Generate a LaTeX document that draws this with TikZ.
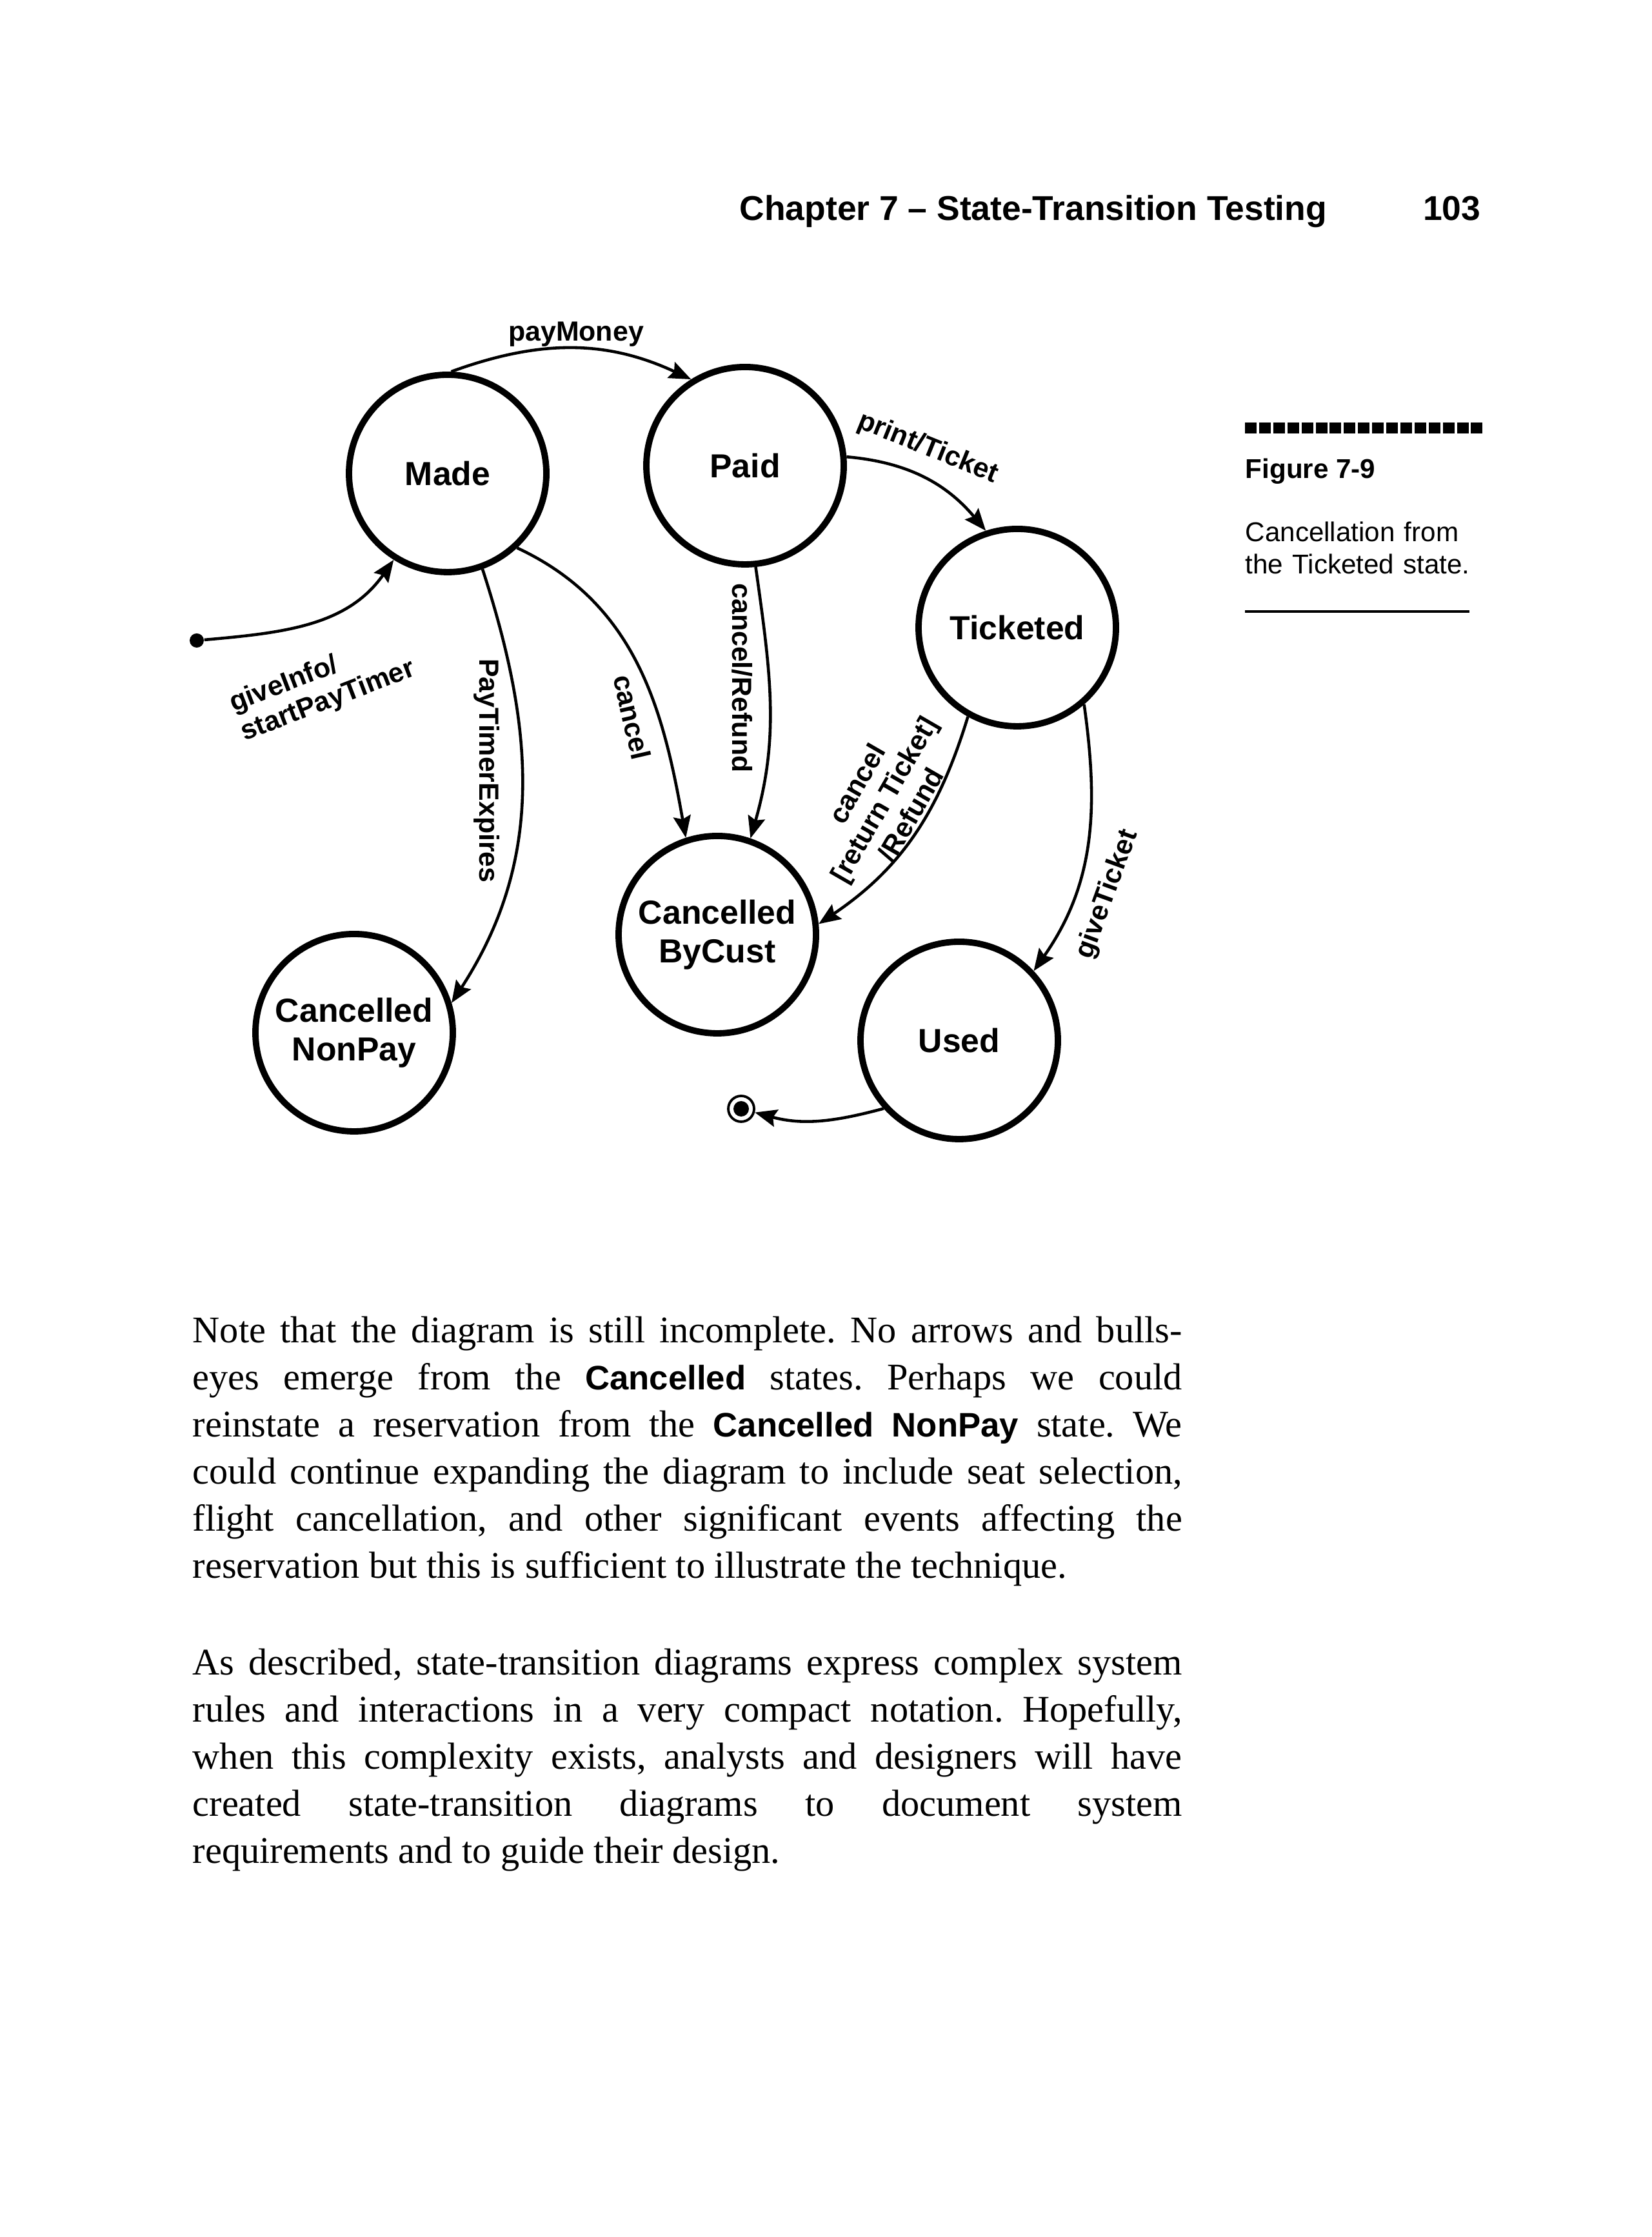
\documentclass[tikz,border=0pt]{standalone}
\usepackage{fontspec}
\setmainfont{Liberation Serif}
\setsansfont{Liberation Sans}
\usetikzlibrary{arrows.meta}

\newcommand{\statefont}{\sffamily\bfseries\fontsize{14.7}{17}\selectfont}
\newcommand{\edgefont}{\sffamily\bfseries\fontsize{12.2}{13.7}\selectfont}
\newcommand{\bodyfont}{\rmfamily\fontsize{16.6}{20.77}\selectfont\frenchspacing\hyphenpenalty=10000\exhyphenpenalty=10000\relax}
\newcommand{\sidefont}{\sffamily\fontsize{12}{14.2}\selectfont}
\newcommand{\headfont}{\sffamily\bfseries\fontsize{15.2}{17}\selectfont}
\newcommand{\bsf}[1]{{\sffamily\bfseries\fontsize{15}{20.77}\selectfont #1}}

\begin{document}
\begin{tikzpicture}[
    stnode/.style={circle, draw, line width=2.8pt, minimum size=3.06cm, inner sep=0pt, align=center, font=\statefont},
    trans/.style={line width=1.3pt, -{Stealth[length=0.34cm,width=0.27cm,inset=0.05cm]}},
    lbl/.style={font=\edgefont, inner sep=0pt},
    bodytext/.style={font=\bodyfont, anchor=base west, inner sep=0pt, text width=15.34cm, align=justify}]
\useasboundingbox[fill=white] (0,0) rectangle (25.6,34.68);

% running head
\node[font=\headfont, anchor=base west, inner sep=0pt] (head) at (11.46,31.26) {Chapter 7 -- State-Transition Testing};
\node[font=\headfont, anchor=base east, inner sep=0pt] (pgno) at (22.96,31.26) {103};

% states
\node[stnode] (made) at (6.94,27.34) {Made};
\node[stnode] (paid) at (11.55,27.46) {Paid};
\node[stnode] (tick) at (15.77,24.95) {Ticketed};
\node[stnode] (bycust) at (11.12,20.19) {Cancelled\\ByCust};
\node[stnode] (used) at (14.87,18.55) {Used};
\node[stnode] (nonpay) at (5.49,18.67) {Cancelled\\NonPay};
\node[circle, fill, inner sep=0pt, minimum size=0.22cm] (init) at (3.05,24.75) {};
\node[circle, draw, line width=1.1pt, inner sep=0pt, minimum size=0.4cm] (fin) at (11.49,17.49) {};
\fill (fin.center) circle (0.12);

% transitions
\draw[trans] (init) to[out=5, in=235] (made.238);
\draw[trans] (made.88) to[out=20, in=155] (paid.122);
\draw[trans] (made.290) to[out=-72, in=57] (nonpay.17);
\draw[trans] (made.-47) to[out=-25, in=100] (bycust.108);
\draw[trans] (paid.-84) to[out=-82, in=74] (bycust.71);
\draw[trans] (paid.5) to[out=-5, in=130] (tick.108);
\draw[trans] (tick.241) to[out=253, in=34] (bycust.6);
\draw[trans] (tick.-49) to[out=-82, in=55] (used.43);
\draw[trans] (used.222) to[out=195, in=-15] (fin);

% transition labels
\node[lbl, anchor=base] (lpay) at (8.93,29.39) {payMoney};
\node[lbl, rotate=21, align=left] (lgive) at (5.00,24.03) {giveInfo/\\startPayTimer};
\node[lbl, rotate=-90] (ltimer) at (7.55,22.73) {PayTimerExpires};
\node[lbl, rotate=-77] (lcancel) at (9.80,23.56) {cancel};
\node[lbl, rotate=-90] (lrefund) at (11.51,24.17) {cancel/Refund};
\node[lbl, rotate=-22] (lprint) at (14.38,27.73) {print/Ticket};
\node[lbl, rotate=60, align=center] (lreturn) at (13.70,22.29) {cancel\\{[return Ticket]}\\/Refund};
\node[lbl, rotate=70] (lticket) at (17.17,20.81) {giveTicket};

% side caption
\foreach \i in {0,...,16}
  \fill (19.30+\i*0.219,27.96) rectangle ++(0.18,0.17);
\node[font=\sffamily\bfseries\fontsize{12}{14.2}\selectfont, anchor=base west, inner sep=0pt] (fignum) at (19.30,27.26) {Figure 7-9};
\node[font=\sidefont, anchor=base west, inner sep=0pt, text width=4cm, align=left] (figcap) at (19.30,26.28) {Cancellation from\\the Ticketed state.};
\draw[line width=0.9pt] (19.30,25.20) -- (22.78,25.20);

% body text
\node[bodytext] (para1) at (2.98,13.86)
  {Note that the diagram is still incomplete. No arrows and bulls-\linebreak
   eyes emerge from the \bsf{Cancelled} states. Perhaps we could\linebreak
   reinstate a reservation from the \bsf{Cancelled NonPay} state. We\linebreak
   could continue expanding the diagram to include seat selection,\linebreak
   flight cancellation, and other significant events affecting the\linebreak
   reservation but this is sufficient to illustrate the technique.};
\node[bodytext] (para2) at (2.98,8.71)
  {As described, state-transition diagrams express complex system\linebreak
   rules and interactions in a very compact notation. Hopefully,\linebreak
   when this complexity exists, analysts and designers will have\linebreak
   created state-transition diagrams to document system\linebreak
   requirements and to guide their design.};
\end{tikzpicture}
\end{document}
